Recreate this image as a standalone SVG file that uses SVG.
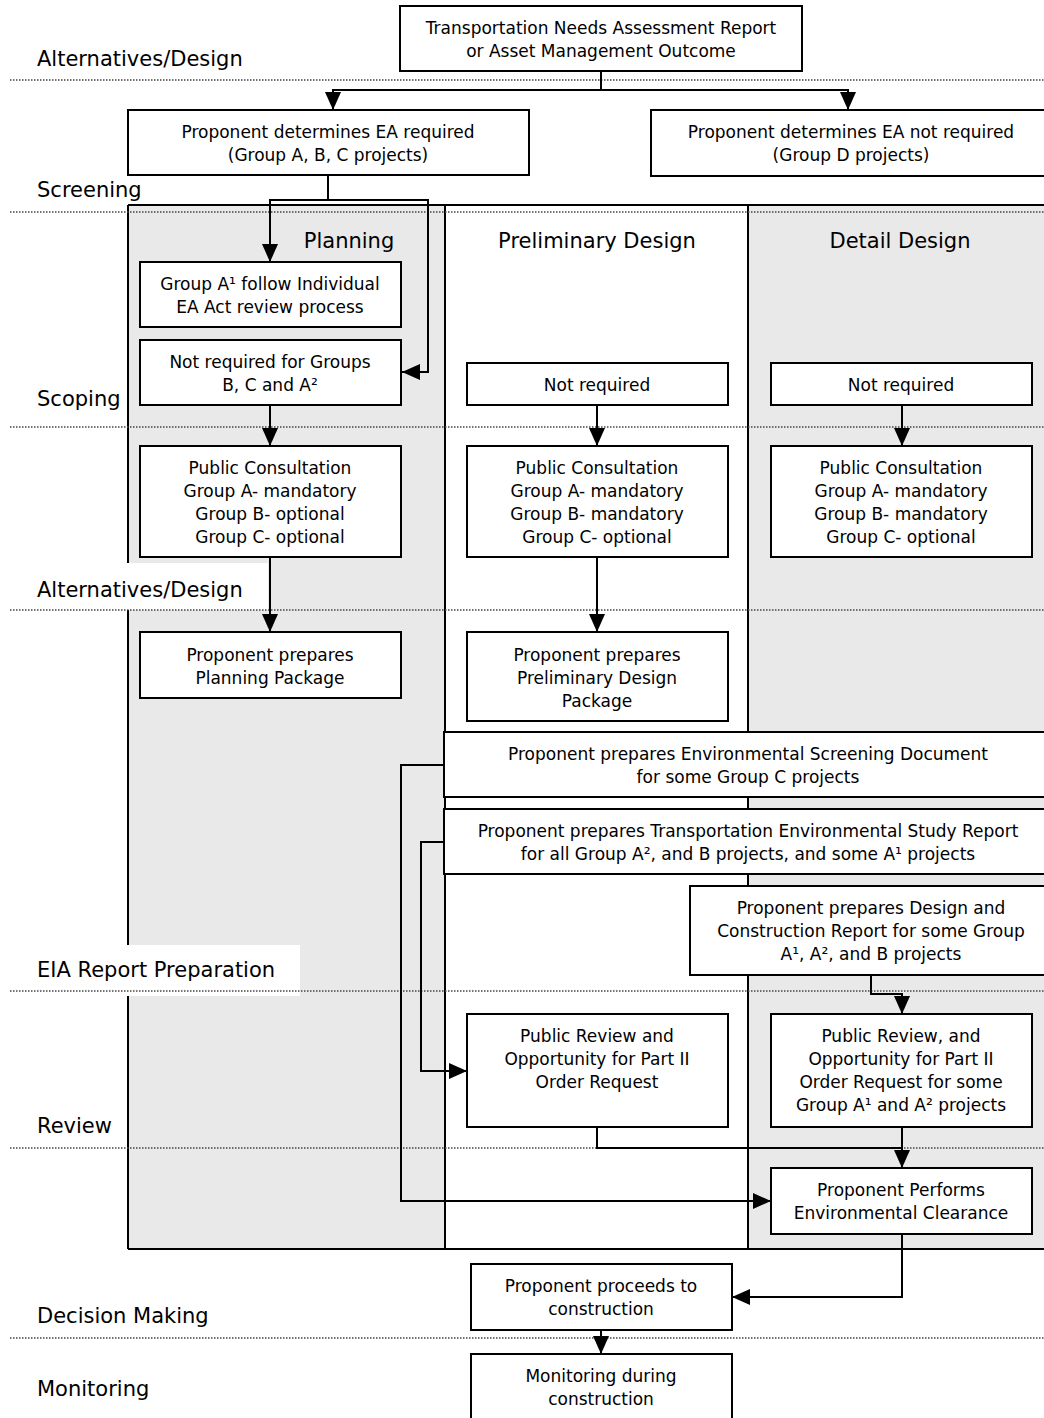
<svg xmlns="http://www.w3.org/2000/svg" width="1044" height="1418" viewBox="0 0 1044 1418">
<style>
.box{fill:#fff;stroke:#000;stroke-width:2}
.col{stroke:#000;stroke-width:2}
.dot{stroke:#444;stroke-width:1.5;stroke-dasharray:1.5 1.5;fill:none}
.con{fill:none;stroke:#000;stroke-width:2}
.t{font-family:"DejaVu Sans","Liberation Sans",sans-serif;font-size:17px;fill:#000;text-anchor:middle}
.lbl{font-family:"DejaVu Sans","Liberation Sans",sans-serif;font-size:21px;fill:#000}
.hdr{font-family:"DejaVu Sans","Liberation Sans",sans-serif;font-size:21px;fill:#000;text-anchor:middle}
</style>
<defs>
<marker id="arr" markerUnits="userSpaceOnUse" markerWidth="18" markerHeight="16" refX="18" refY="8" orient="auto" viewBox="0 0 18 16">
<path d="M0,0 L18,8 L0,16 Z" fill="#000"/>
</marker>
</defs>
<rect x="0" y="0" width="1044" height="1418" fill="#fff"/>

<g id="columns">
<rect x="128" y="205" width="317" height="1044" fill="#e9e9e9"/>
<rect x="445" y="205" width="303" height="1044" fill="#fff"/>
<rect x="748" y="205" width="300" height="1044" fill="#e9e9e9"/>
<path class="col" d="M128,205 H1048 M128,1249 H1048 M128,205 V1249 M445,205 V1249 M748,205 V1249"/>
<text class="hdr" x="349" y="248">Planning</text>
<text class="hdr" x="597" y="248">Preliminary Design</text>
<text class="hdr" x="900" y="248">Detail Design</text>
</g>

<g id="phase-labels">
<rect x="0" y="563" width="268" height="47" fill="#fff"/>
<rect x="0" y="945" width="300" height="51" fill="#fff"/>
<line class="dot" x1="10" y1="80" x2="1044" y2="80"/>
<line class="dot" x1="10" y1="212" x2="1044" y2="212"/>
<line class="dot" x1="10" y1="427" x2="1044" y2="427"/>
<line class="dot" x1="10" y1="610" x2="1044" y2="610"/>
<line class="dot" x1="10" y1="991" x2="1044" y2="991"/>
<line class="dot" x1="10" y1="1148" x2="1044" y2="1148"/>
<line class="dot" x1="10" y1="1338" x2="1044" y2="1338"/>
<text class="lbl" x="37" y="66">Alternatives/Design</text>
<text class="lbl" x="37" y="197">Screening</text>
<text class="lbl" x="37" y="406">Scoping</text>
<text class="lbl" x="37" y="597">Alternatives/Design</text>
<text class="lbl" x="37" y="977">EIA Report Preparation</text>
<text class="lbl" x="37" y="1133">Review</text>
<text class="lbl" x="37" y="1323">Decision Making</text>
<text class="lbl" x="37" y="1396">Monitoring</text>
</g>

<g id="connectors">
<path class="con" d="M601,71 V90 H333 V110" marker-end="url(#arr)"/>
<path class="con" d="M601,90 H848 V110" marker-end="url(#arr)"/>
<path class="con" d="M328,175 V200 H270 V262" marker-end="url(#arr)"/>
<path class="con" d="M328,200 H428 V372 H402" marker-end="url(#arr)"/>
<path class="con" d="M270,405 V446" marker-end="url(#arr)"/>
<path class="con" d="M270,557 V632" marker-end="url(#arr)"/>
<path class="con" d="M597,405 V446" marker-end="url(#arr)"/>
<path class="con" d="M597,557 V632" marker-end="url(#arr)"/>
<path class="con" d="M902,405 V446" marker-end="url(#arr)"/>
<path class="con" d="M444,765 H401 V1201 H771" marker-end="url(#arr)"/>
<path class="con" d="M444,842 H421 V1071 H467" marker-end="url(#arr)"/>
<path class="con" d="M871,975 V994 H902 V1014" marker-end="url(#arr)"/>
<path class="con" d="M597,1127 V1148 H902"/>
<path class="con" d="M902,1127 V1168" marker-end="url(#arr)"/>
<path class="con" d="M902,1234 V1297 H732" marker-end="url(#arr)"/>
<path class="con" d="M601,1330 V1354" marker-end="url(#arr)"/>
</g>

<g id="n-tnar">
<rect class="box" x="400" y="6" width="402" height="65"/>
<text class="t" x="601" y="34">Transportation Needs Assessment Report</text>
<text class="t" x="601" y="57">or Asset Management Outcome</text>
</g>
<g id="n-ea-required">
<rect class="box" x="128" y="110" width="401" height="65"/>
<text class="t" x="328" y="138">Proponent determines EA required</text>
<text class="t" x="328" y="161">(Group A, B, C projects)</text>
</g>
<g id="n-ea-not-required">
<rect class="box" x="651" y="110" width="400" height="66"/>
<text class="t" x="851" y="138">Proponent determines EA not required</text>
<text class="t" x="851" y="161">(Group D projects)</text>
</g>
<g id="n-groupA1">
<rect class="box" x="140" y="262" width="261" height="65"/>
<text class="t" x="270" y="290">Group A¹ follow Individual</text>
<text class="t" x="270" y="313">EA Act review process</text>
</g>
<g id="n-notreq-plan">
<rect class="box" x="140" y="340" width="261" height="65"/>
<text class="t" x="270" y="368">Not required for Groups</text>
<text class="t" x="270" y="391">B, C and A²</text>
</g>
<g id="n-notreq-prelim">
<rect class="box" x="467" y="363" width="261" height="42"/>
<text class="t" x="597" y="391">Not required</text>
</g>
<g id="n-notreq-detail">
<rect class="box" x="771" y="363" width="261" height="42"/>
<text class="t" x="901" y="391">Not required</text>
</g>
<g id="n-pc-plan">
<rect class="box" x="140" y="446" width="261" height="111"/>
<text class="t" x="270" y="474">Public Consultation</text>
<text class="t" x="270" y="497">Group A- mandatory</text>
<text class="t" x="270" y="520">Group B- optional</text>
<text class="t" x="270" y="543">Group C- optional</text>
</g>
<g id="n-pc-prelim">
<rect class="box" x="467" y="446" width="261" height="111"/>
<text class="t" x="597" y="474">Public Consultation</text>
<text class="t" x="597" y="497">Group A- mandatory</text>
<text class="t" x="597" y="520">Group B- mandatory</text>
<text class="t" x="597" y="543">Group C- optional</text>
</g>
<g id="n-pc-detail">
<rect class="box" x="771" y="446" width="261" height="111"/>
<text class="t" x="901" y="474">Public Consultation</text>
<text class="t" x="901" y="497">Group A- mandatory</text>
<text class="t" x="901" y="520">Group B- mandatory</text>
<text class="t" x="901" y="543">Group C- optional</text>
</g>
<g id="n-planning-pkg">
<rect class="box" x="140" y="632" width="261" height="66"/>
<text class="t" x="270" y="661">Proponent prepares</text>
<text class="t" x="270" y="684">Planning Package</text>
</g>
<g id="n-prelim-pkg">
<rect class="box" x="467" y="632" width="261" height="89"/>
<text class="t" x="597" y="661">Proponent prepares</text>
<text class="t" x="597" y="684">Preliminary Design</text>
<text class="t" x="597" y="707">Package</text>
</g>
<g id="n-esd">
<rect class="box" x="444" y="732" width="608" height="65"/>
<text class="t" x="748" y="760">Proponent prepares Environmental Screening Document</text>
<text class="t" x="748" y="783">for some Group C projects</text>
</g>
<g id="n-tesr">
<rect class="box" x="444" y="809" width="608" height="65"/>
<text class="t" x="748" y="837">Proponent prepares Transportation Environmental Study Report</text>
<text class="t" x="748" y="860">for all Group A², and B projects, and some A¹ projects</text>
</g>
<g id="n-dcr">
<rect class="box" x="690" y="886" width="362" height="89"/>
<text class="t" x="871" y="914">Proponent prepares Design and</text>
<text class="t" x="871" y="937">Construction Report for some Group</text>
<text class="t" x="871" y="960">A¹, A², and B projects</text>
</g>
<g id="n-review-prelim">
<rect class="box" x="467" y="1014" width="261" height="113"/>
<text class="t" x="597" y="1042">Public Review and</text>
<text class="t" x="597" y="1065">Opportunity for Part II</text>
<text class="t" x="597" y="1088">Order Request</text>
</g>
<g id="n-review-detail">
<rect class="box" x="771" y="1014" width="261" height="113"/>
<text class="t" x="901" y="1042">Public Review, and</text>
<text class="t" x="901" y="1065">Opportunity for Part II</text>
<text class="t" x="901" y="1088">Order Request for some</text>
<text class="t" x="901" y="1111">Group A¹ and A² projects</text>
</g>
<g id="n-clearance">
<rect class="box" x="771" y="1168" width="261" height="66"/>
<text class="t" x="901" y="1196">Proponent Performs</text>
<text class="t" x="901" y="1219">Environmental Clearance</text>
</g>
<g id="n-construction">
<rect class="box" x="471" y="1264" width="261" height="66"/>
<text class="t" x="601" y="1292">Proponent proceeds to</text>
<text class="t" x="601" y="1315">construction</text>
</g>
<g id="n-monitoring">
<rect class="box" x="471" y="1354" width="261" height="70"/>
<text class="t" x="601" y="1382">Monitoring during</text>
<text class="t" x="601" y="1405">construction</text>
</g>
</svg>
